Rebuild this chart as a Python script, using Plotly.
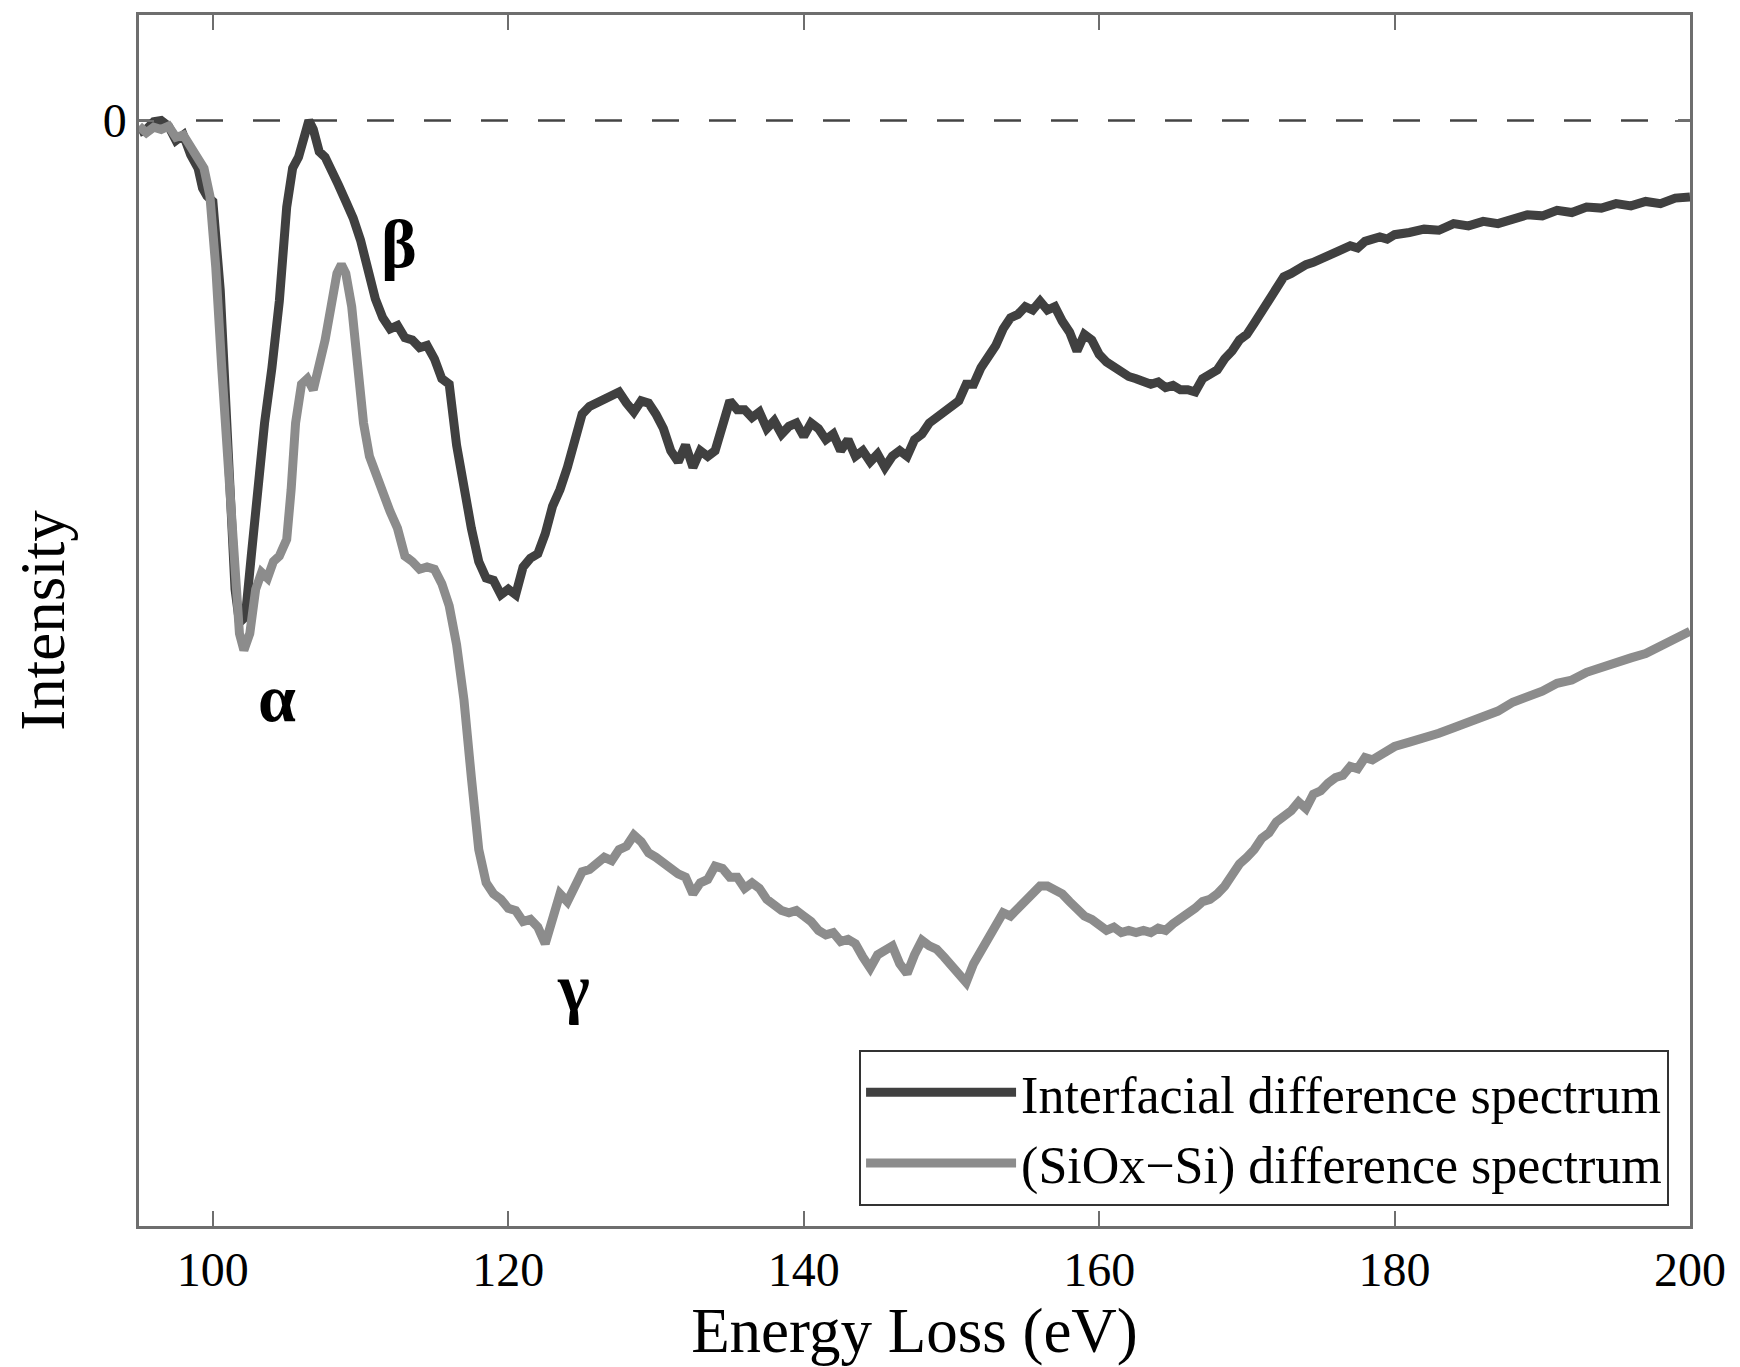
import plotly.graph_objects as go

# ---------------- data (arbitrary intensity units) ----------------
interf_x = [95.0, 95.5, 96.0, 96.5, 97.0, 97.5, 98.0, 98.5, 99.0, 99.3, 99.6, 100.0, 100.5, 101.0, 101.5, 101.8,
            102.2, 102.6, 103.0, 103.5, 104.0, 104.5, 105.0, 105.4, 105.8, 106.2, 106.5, 106.8, 107.2, 107.6,
            108.0, 108.5, 109.0, 109.5, 110.0, 110.5, 111.0, 111.5, 112.0, 112.5, 113.0, 113.5, 114.0, 114.5,
            115.0, 115.5, 116.0, 116.5, 117.0, 117.5, 118.0, 118.5, 119.0, 119.5, 120.0, 120.5, 121.0, 121.5,
            122.0, 122.5, 123.0, 123.5, 124.0, 124.5, 125.0, 125.5, 126.0, 126.5, 127.0, 127.5, 128.0, 128.5,
            129.0, 129.5, 130.0, 130.5, 131.0, 131.5, 132.0, 132.5, 133.0, 133.5, 134.0, 134.5, 135.0, 135.5,
            136.0, 136.5, 137.0, 137.5, 138.0, 138.5, 139.0, 139.5, 140.0, 140.5, 141.0, 141.5, 142.0, 142.5,
            143.0, 143.5, 144.0, 144.5, 145.0, 145.5, 146.0, 146.5, 147.0, 147.5, 148.0, 148.5, 149.0, 149.5,
            150.0, 150.5, 151.0, 151.5, 152.0, 152.5, 153.0, 153.5, 154.0, 154.5, 155.0, 155.5, 156.0, 156.5,
            157.0, 157.5, 158.0, 158.5, 159.0, 159.5, 160.0, 160.5, 161.0, 161.5, 162.0, 162.5, 163.0, 163.5,
            164.0, 164.5, 165.0, 165.5, 166.0, 166.5, 167.0, 167.5, 168.0, 168.5, 169.0, 169.5, 170.0, 170.5,
            171.0, 171.5, 172.0, 172.5, 173.0, 173.5, 174.0, 174.5, 175.0, 175.5, 176.0, 176.5, 177.0, 177.5,
            178.0, 178.5, 179.0, 179.5, 180.0, 181, 182, 183, 184, 185, 186, 187, 188, 189, 190, 191, 192, 193,
            194, 195, 196, 197, 198, 199, 200]
interf_y = [-11, -8, -1, 0, -5, -18, -13, -31, -43, -61, -68, -73, -153, -293, -423, -453,
            -448, -393, -333, -273, -223, -163, -78, -43, -33, -13, 0, -8, -28, -33,
            -43, -58, -73, -88, -108, -133, -161, -178, -188, -185, -196, -198, -205, -203,
            -215, -233, -238, -293, -333, -368, -398, -413, -415, -428, -423, -428, -403, -395,
            -391, -373, -348, -333, -313, -288, -265, -258, -255, -253, -248, -245, -255, -263,
            -253, -255, -265, -278, -298, -308, -293, -313, -298, -303, -298, -278, -253, -261,
            -261, -268, -263, -278, -271, -283, -276, -273, -285, -273, -278, -288, -283, -298,
            -288, -303, -298, -308, -301, -313, -303, -298, -303, -288, -283, -273, -268, -261,
            -258, -253, -238, -238, -223, -213, -203, -188, -178, -175, -168, -171, -163, -171,
            -168, -181, -191, -208, -193, -198, -211, -218, -223, -228, -231, -233, -235, -238,
            -236, -241, -239, -243, -243, -245, -233, -228, -225, -215, -208, -198, -193, -183,
            -173, -161, -151, -141, -138, -133, -130, -128, -125, -123, -121, -118, -113, -115,
            -109, -107, -105, -107, -103, -101, -98, -99, -93, -95, -91, -93, -88, -85, -86, -81, -83, -78,
            -79, -75, -77, -73, -75, -70, -69]

siox_x = [95.0, 95.5, 96.0, 96.5, 97.0, 97.5, 98.0, 98.5, 99.0, 99.4, 99.8, 100.2, 100.6, 101.0, 101.4, 101.8,
          102.1, 102.5, 102.9, 103.3, 103.7, 104.1, 104.5, 105.0, 105.3, 105.6, 106.0, 106.4, 106.8, 107.2,
          107.6, 108.0, 108.4, 108.7, 109.0, 109.4, 109.8, 110.2, 110.6, 111.0, 111.5, 112.0, 112.5, 113.0,
          113.5, 114.0, 114.5, 115.0, 115.5, 116.0, 116.5, 117.0, 117.5, 118.0, 118.5, 119.0, 119.5, 120.0,
          120.5, 121.0, 121.5, 122.0, 122.5, 123.0, 123.5, 124.0, 124.5, 125.0, 125.5, 126.0, 126.5, 127.0,
          127.5, 128.0, 128.5, 129.0, 129.5, 130.0, 130.5, 131.0, 131.5, 132.0, 132.5, 133.0, 133.5, 134.0,
          134.5, 135.0, 135.5, 136.0, 136.5, 137.0, 137.5, 138.0, 138.5, 139.0, 139.5, 140.0, 140.5, 141.0,
          141.5, 142.0, 142.5, 143.0, 143.5, 144.0, 144.5, 145.0, 145.5, 146.0, 146.5, 147.0, 147.5, 148.0,
          148.5, 149.0, 149.5, 150.0, 150.5, 151.0, 151.5, 152.0, 152.5, 153.0, 153.5, 154.0, 154.5, 155.0,
          155.5, 156.0, 156.5, 157.0, 157.5, 158.0, 158.5, 159.0, 159.5, 160.0, 160.5, 161.0, 161.5, 162.0,
          162.5, 163.0, 163.5, 164.0, 164.5, 165.0, 165.5, 166.0, 166.5, 167.0, 167.5, 168.0, 168.5, 169.0,
          169.5, 170.0, 170.5, 171.0, 171.5, 172.0, 172.5, 173.0, 173.5, 174.0, 174.5, 175.0, 175.5, 176.0,
          176.5, 177.0, 177.5, 178.0, 178.5, 179.0, 179.5, 180.0, 181, 182, 183, 184, 185, 186, 187, 188,
          189, 190, 191, 192, 193, 194, 195, 196, 197, 198, 199, 200]
siox_y = [-5, -11, -6, -8, -5, -15, -13, -23, -33, -43, -68, -133, -223, -313, -403, -463,
          -478, -463, -423, -408, -413, -398, -393, -378, -333, -273, -238, -233, -243, -223,
          -198, -168, -138, -130, -138, -168, -223, -273, -303, -318, -333, -353, -368, -393,
          -398, -405, -403, -405, -418, -438, -473, -523, -593, -658, -688, -698, -703, -711,
          -713, -723, -721, -728, -743, -723, -698, -705, -693, -678, -676, -671, -665, -668,
          -658, -655, -645, -651, -661, -665, -671, -675, -680, -683, -698, -688, -685, -673,
          -675, -683, -683, -693, -688, -693, -703, -708, -713, -715, -713, -718, -723, -731,
          -735, -733, -741, -739, -743, -755, -765, -753, -748, -745, -761, -770, -753, -740,
          -745, -748, -755, -763, -771, -778, -761, -749, -738, -723, -715, -718, -711, -705,
          -698, -691, -691, -695, -698, -705, -713, -718, -721, -725, -731, -728, -733, -731,
          -733, -731, -733, -729, -731, -725, -721, -715, -711, -705, -703, -698, -691, -681,
          -671, -665, -658, -648, -643, -633, -628, -623, -615, -621, -608, -605, -598, -593,
          -591, -583, -585, -575, -577, -573, -568, -565, -561, -558, -553, -548, -543, -538, -533, -525,
          -521, -515, -508, -505, -498, -493, -489, -485, -481, -475, -468, -461]

series_names = ["Interfacial difference spectrum", "(SiOx\u2212Si) difference spectrum"]
series_colors = ["#404040", "#8c8c8c"]

x_ticks = [100, 120, 140, 160, 180, 200]
y_ticks = [0]
y_tick_labels = ["0"]

peak_labels = ["\u03b1", "\u03b2", "\u03b3"]
peak_x = [104.35, 112.6, 124.4]
peak_y = [-521, -111, -783]

FONT = "Liberation Serif"

fig = go.Figure()
fig.add_trace(go.Scatter(x=interf_x, y=interf_y, mode="lines", name=series_names[0],
                         line=dict(color=series_colors[0], width=9)))
fig.add_trace(go.Scatter(x=siox_x, y=siox_y, mode="lines", name=series_names[1],
                         line=dict(color=series_colors[1], width=9)))

# dashed zero line
fig.add_shape(type="line", xref="paper", x0=0, x1=1, yref="y", y0=0, y1=0,
              line=dict(color="#444444", width=2.5, dash="27px,30px"), layer="below")

for lab, px, py in zip(peak_labels, peak_x, peak_y):
    fig.add_annotation(x=px, y=py, text="<b>%s</b>" % lab, showarrow=False,
                       font=dict(family=FONT, size=68, color="black"))

axis_common = dict(showline=True, linecolor="#6e6e6e", linewidth=2.5, mirror="ticks",
                   ticks="inside", tickcolor="#6e6e6e", tickwidth=2, ticklen=15,
                   showgrid=False, zeroline=False,
                   tickfont=dict(family=FONT, size=48, color="black"))

fig.update_xaxes(range=[95, 200], tickvals=x_ticks,
                 title=dict(text="Energy Loss (eV)", font=dict(family=FONT, size=63, color="black"),
                            standoff=4),
                 **axis_common)
fig.update_yaxes(range=[-997.8, 95.3], tickvals=y_ticks, ticktext=y_tick_labels,
                 title=dict(text="Intensity", font=dict(family=FONT, size=63, color="black"),
                            standoff=18),
                 **axis_common)

fig.update_layout(
    width=1740, height=1367,
    margin=dict(l=139, r=50, t=13, b=141),
    plot_bgcolor="white", paper_bgcolor="white",
    font=dict(family=FONT, color="black"),
    legend=dict(x=0.9865, y=0.0165, xanchor="right", yanchor="bottom",
                bgcolor="white", bordercolor="#333333", borderwidth=2,
                font=dict(family=FONT, size=52, color="black"),
                itemwidth=150, tracegroupgap=0),
    showlegend=True,
)

fig.write_html("out.html")
